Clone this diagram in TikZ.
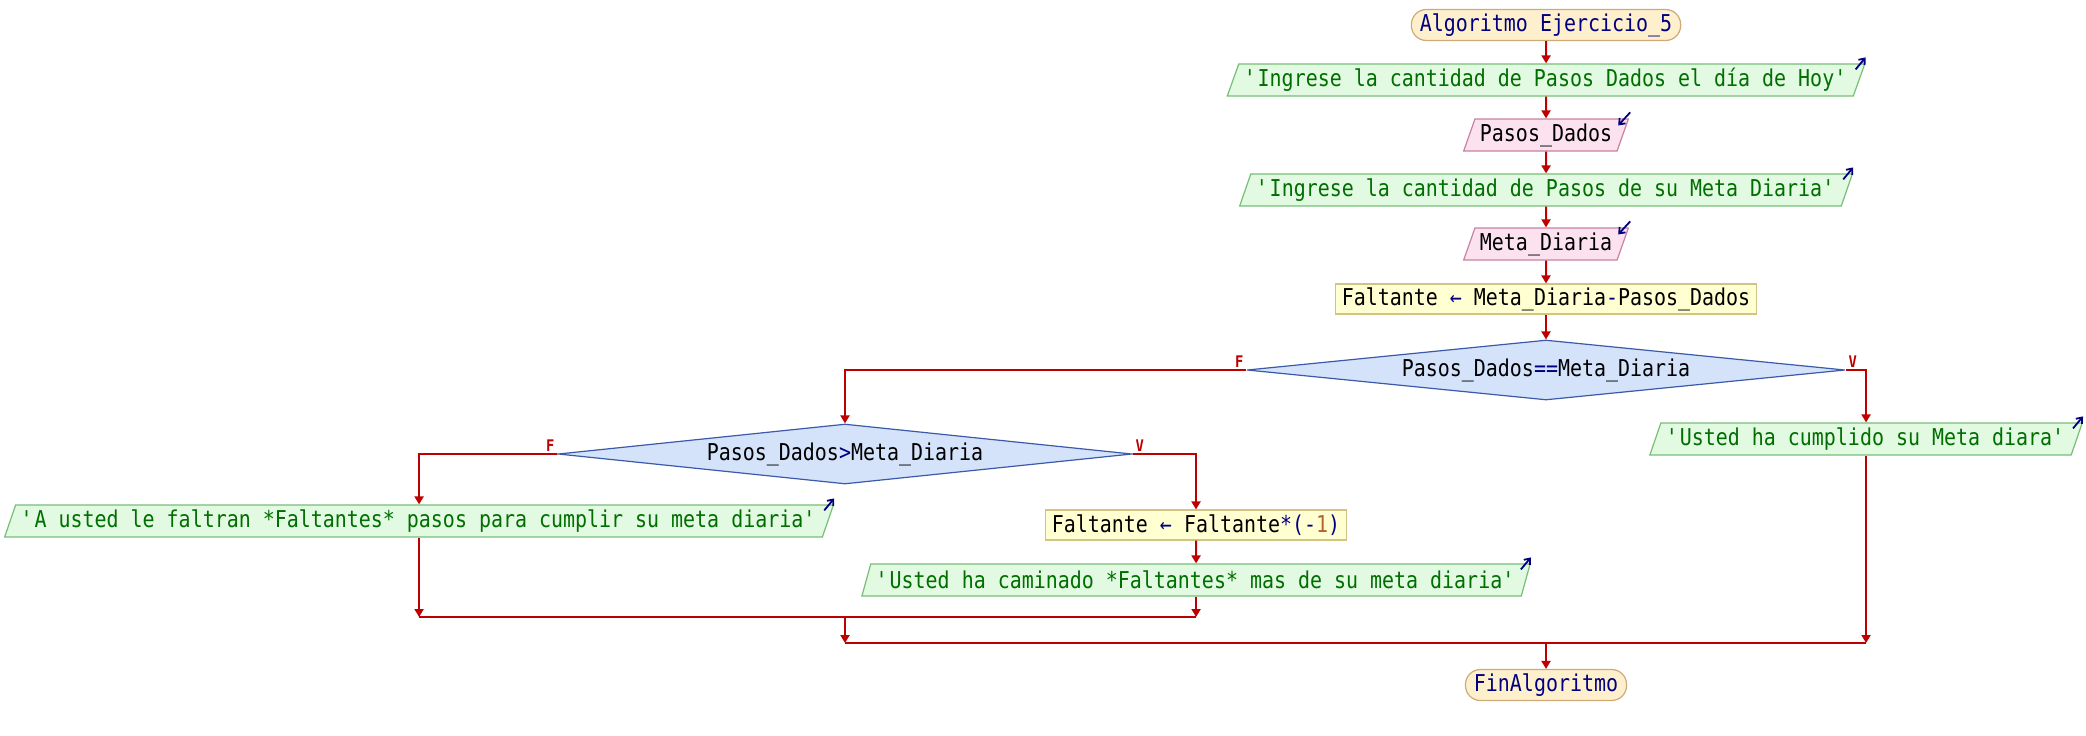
\documentclass[tikz,border=0pt]{standalone}
\usepackage{fontspec}
\newfontfamily\psfont[FakeStretch=0.86]{DejaVu Sans Mono}
\usetikzlibrary{shapes.geometric,arrows.meta}

\definecolor{rojo}{RGB}{190,0,0}
\definecolor{azul}{RGB}{0,0,128}
\definecolor{verde}{RGB}{0,110,0}
\definecolor{numero}{RGB}{180,100,40}
\definecolor{fondoterm}{RGB}{255,240,205}
\definecolor{bordeterm}{RGB}{205,170,120}
\definecolor{fondosal}{RGB}{225,250,225}
\definecolor{bordesal}{RGB}{120,190,120}
\definecolor{fondoent}{RGB}{252,226,238}
\definecolor{bordeent}{RGB}{200,130,160}
\definecolor{fondoasig}{RGB}{255,255,210}
\definecolor{bordeasig}{RGB}{210,195,130}
\definecolor{fondodec}{RGB}{212,226,250}
\definecolor{bordedec}{RGB}{60,90,170}

\newcommand{\fuente}{\psfont\fontsize{11.6}{13}\selectfont}
\newcommand{\etiqfuente}{\psfont\bfseries\fontsize{8}{9}\selectfont}
\newcommand{\comilla}{\textquotesingle}

\tikzset{
	flecha/.style={rojo, line width=1pt, -{Triangle[length=4pt,width=4.5pt]}},
	linea/.style={rojo, line width=1pt},
	terminal/.style={draw=bordeterm, fill=fondoterm, line width=0.6pt, rounded corners=7.5pt, minimum height=15.5pt, inner xsep=4.25pt, inner ysep=0pt, text=azul, font=\fuente},
	salida/.style={trapezium, trapezium left angle=64, trapezium right angle=116, trapezium stretches body, draw=bordesal, fill=fondosal, line width=0.6pt, text=verde, minimum height=16pt, inner xsep=2.5pt, inner ysep=0pt, font=\fuente},
	entrada/.style={salida, draw=bordeent, fill=fondoent, text=black},
	asignacion/.style={rectangle, draw=bordeasig, fill=fondoasig, line width=0.6pt, minimum height=15pt, inner xsep=3pt, inner ysep=0pt, font=\fuente},
	decision/.style={diamond, aspect=10, draw=bordedec, fill=fondodec, line width=0.6pt, minimum height=30pt, inner sep=0pt, font=\fuente},
	etiq/.style={text=rojo, font=\etiqfuente, inner sep=1pt},
	icono/.style={azul, line width=0.9pt, -{Straight Barb[length=2.5pt,width=4pt]}}
}

\begin{document}
\begin{tikzpicture}[x=0.5pt, y=-0.5pt]
	\fill[white] (0,0) rectangle (2086,735);
	\useasboundingbox (0,0) rectangle (2086,735);
	
	% Nodos
	\node[terminal] (inicio) at (1546,25) {Algoritmo Ejercicio\_5};
	\node[salida] (sal1) at (1546,80) {\comilla Ingrese la cantidad de Pasos Dados el día de Hoy\comilla};
	\node[entrada] (ent1) at (1546,135) {Pasos\_Dados};
	\node[salida] (sal2) at (1546,190) {\comilla Ingrese la cantidad de Pasos de su Meta Diaria\comilla};
	\node[entrada] (ent2) at (1546,244) {Meta\_Diaria};
	\node[asignacion] (asig1) at (1546,299) {Faltante {\color{azul}←} Meta\_Diaria{\color{azul}-}Pasos\_Dados};
	\node[decision, minimum width=299pt] (dec1) at (1546,370) {Pasos\_Dados{\color{azul}==}Meta\_Diaria};
	\node[salida] (sal3) at (1866,439) {\comilla Usted ha cumplido su Meta diara\comilla};
	\node[decision, minimum width=287pt] (dec2) at (845,454) {Pasos\_Dados{\color{azul}>}Meta\_Diaria};
	\node[salida] (sal4) at (419,521) {\comilla A usted le faltran *Faltantes* pasos para cumplir su meta diaria\comilla};
	\node[asignacion] (asig2) at (1196,525) {Faltante {\color{azul}←} Faltante{\color{azul}*(-}{\color{numero}1}{\color{azul})}};
	\node[salida] (sal5) at (1196,580) {\comilla Usted ha caminado *Faltantes* mas de su meta diaria\comilla};
	\node[terminal] (fin) at (1546,685) {FinAlgoritmo};
	\coordinate (union1) at (845,617);
	\coordinate (union2) at (845,643);
	
	% Iconos de lectura y escritura
	\foreach \s in {sal1,sal2,sal3,sal4,sal5}
	\draw[icono] ([shift={(-10,6)}]\s.top right corner) -- ++(10,-12);
	\foreach \e in {ent1,ent2}
	\draw[icono] ([shift={(1,-6)}]\e.top right corner) -- ++(-12,13);
	
	% Flujo principal
	\draw[flecha] (inicio) -- (sal1);
	\draw[flecha] (sal1) -- (ent1);
	\draw[flecha] (ent1) -- (sal2);
	\draw[flecha] (sal2) -- (ent2);
	\draw[flecha] (ent2) -- (asig1);
	\draw[flecha] (asig1) -- (dec1);
	
	% Ramas
	\draw[flecha] (dec1.west) -| (dec2.north) node[etiq, pos=0, above left] {F};
	\draw[flecha] (dec1.east) -| (sal3.north) node[etiq, pos=0, above right] {V};
	\draw[flecha] (dec2.west) -| (sal4.north) node[etiq, pos=0, above left] {F};
	\draw[flecha] (dec2.east) -| (asig2.north) node[etiq, pos=0, above right] {V};
	\draw[flecha] (asig2) -- (sal5);
	
	% Uniones
	\draw[flecha] (sal4.south) -- (sal4.south |- union1);
	\draw[flecha] (sal5.south) -- (sal5.south |- union1);
	\draw[linea] (sal4.south |- union1) -- (sal5.south |- union1);
	\draw[flecha] (union1) -- (union2);
	\draw[flecha] (sal3.south) -- (sal3.south |- union2);
	\draw[linea] (union2) -- (sal3.south |- union2);
	\draw[flecha] (fin.north |- union2) -- (fin);
\end{tikzpicture}
\end{document}
